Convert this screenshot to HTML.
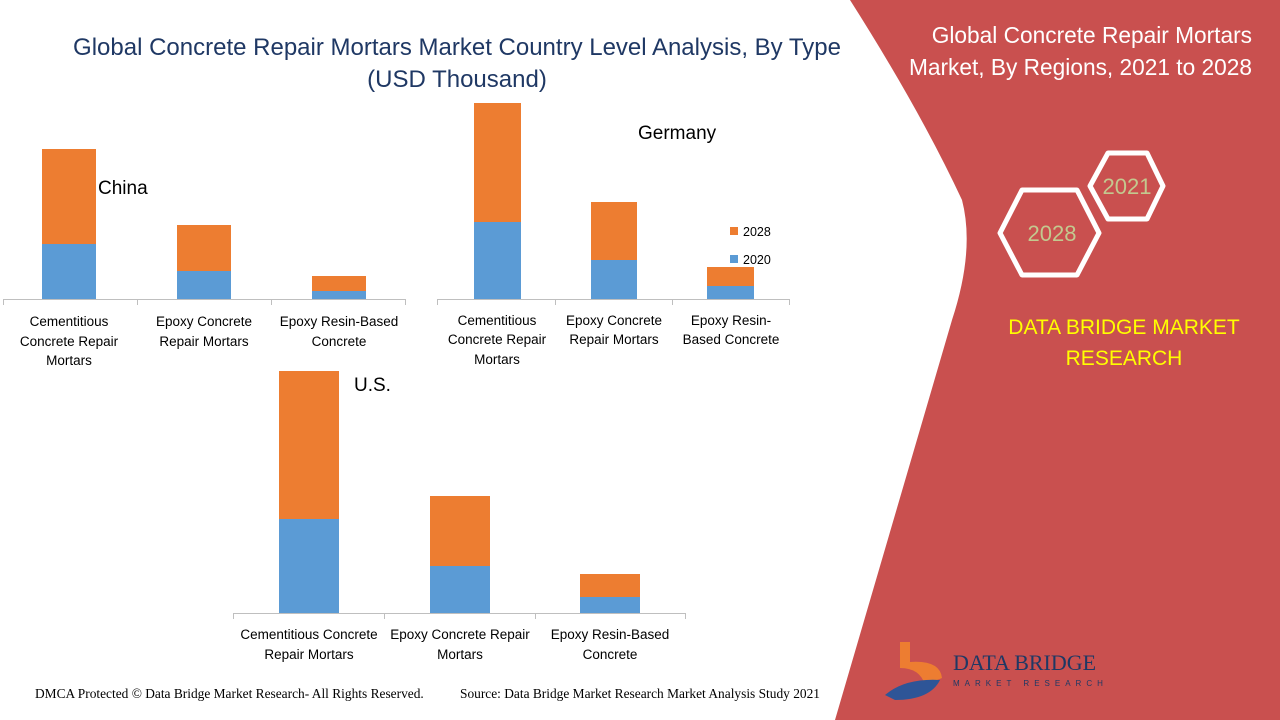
<!DOCTYPE html>
<html><head><meta charset="utf-8"><style>
body{margin:0;width:1280px;height:720px;overflow:hidden;background:#fff;font-family:"Liberation Sans",sans-serif;}
svg{position:absolute;left:0;top:0}
</style></head><body>
<svg width="1280" height="720" viewBox="0 0 1280 720">
<path d="M850,0 L1280,0 L1280,720 L835,720 L952,320 Q975,250 962,200 Q920,110 850,0 Z" fill="#c9504f"/>
<g font-family="Liberation Sans, sans-serif">
<text x="457" y="55" text-anchor="middle" font-size="24" fill="#1f3864">Global Concrete Repair Mortars Market Country Level Analysis, By Type</text>
<text x="457" y="87" text-anchor="middle" font-size="24" fill="#1f3864">(USD Thousand)</text>
<!-- China -->
<line x1="3" y1="299.5" x2="405" y2="299.5" stroke="#bfbfbf"/>
<g stroke="#bfbfbf"><line x1="3.5" y1="299" x2="3.5" y2="305"/><line x1="137.5" y1="299" x2="137.5" y2="305"/><line x1="271.5" y1="299" x2="271.5" y2="305"/><line x1="405.5" y1="299" x2="405.5" y2="305"/></g>
<rect x="42" y="244" width="54" height="55" fill="#5b9bd5"/><rect x="42" y="149" width="54" height="95" fill="#ed7d31"/>
<rect x="177" y="271" width="54" height="28" fill="#5b9bd5"/><rect x="177" y="225" width="54" height="46" fill="#ed7d31"/>
<rect x="312" y="291" width="54" height="8" fill="#5b9bd5"/><rect x="312" y="276" width="54" height="15" fill="#ed7d31"/>
<text x="98" y="194" font-size="19" fill="#000">China</text>
<g font-size="13.5" fill="#000" text-anchor="middle">
<text x="69" y="326">Cementitious</text><text x="69" y="346">Concrete Repair</text><text x="69" y="365">Mortars</text>
<text x="204" y="326">Epoxy Concrete</text><text x="204" y="346">Repair Mortars</text>
<text x="339" y="326">Epoxy Resin-Based</text><text x="339" y="346">Concrete</text>
</g>
<!-- Germany -->
<line x1="437" y1="299.5" x2="789" y2="299.5" stroke="#bfbfbf"/>
<g stroke="#bfbfbf"><line x1="437.5" y1="299" x2="437.5" y2="305"/><line x1="555.5" y1="299" x2="555.5" y2="305"/><line x1="672.5" y1="299" x2="672.5" y2="305"/><line x1="789.5" y1="299" x2="789.5" y2="305"/></g>
<rect x="474" y="222" width="47" height="77" fill="#5b9bd5"/><rect x="474" y="103" width="47" height="119" fill="#ed7d31"/>
<rect x="591" y="260" width="46" height="39" fill="#5b9bd5"/><rect x="591" y="202" width="46" height="58" fill="#ed7d31"/>
<rect x="707" y="286" width="47" height="13" fill="#5b9bd5"/><rect x="707" y="267" width="47" height="19" fill="#ed7d31"/>
<text x="638" y="139" font-size="19" fill="#000">Germany</text>
<rect x="730" y="227" width="8" height="8" fill="#ed7d31"/><text x="743" y="236" font-size="12.5" fill="#000">2028</text>
<rect x="730" y="255" width="8" height="8" fill="#5b9bd5"/><text x="743" y="264" font-size="12.5" fill="#000">2020</text>
<g font-size="13.5" fill="#000" text-anchor="middle">
<text x="497" y="325">Cementitious</text><text x="497" y="344">Concrete Repair</text><text x="497" y="364">Mortars</text>
<text x="614" y="325">Epoxy Concrete</text><text x="614" y="344">Repair Mortars</text>
<text x="731" y="325">Epoxy Resin-</text><text x="731" y="344">Based Concrete</text>
</g>
<!-- US -->
<line x1="233" y1="613.5" x2="685" y2="613.5" stroke="#bfbfbf"/>
<g stroke="#bfbfbf"><line x1="233.5" y1="613" x2="233.5" y2="619"/><line x1="384.5" y1="613" x2="384.5" y2="619"/><line x1="535.5" y1="613" x2="535.5" y2="619"/><line x1="685.5" y1="613" x2="685.5" y2="619"/></g>
<rect x="279" y="519" width="60" height="94" fill="#5b9bd5"/><rect x="279" y="371" width="60" height="148" fill="#ed7d31"/>
<rect x="430" y="566" width="60" height="47" fill="#5b9bd5"/><rect x="430" y="496" width="60" height="70" fill="#ed7d31"/>
<rect x="580" y="597" width="60" height="16" fill="#5b9bd5"/><rect x="580" y="574" width="60" height="23" fill="#ed7d31"/>
<text x="354" y="391" font-size="19" fill="#000">U.S.</text>
<g font-size="13.5" fill="#000" text-anchor="middle">
<text x="309" y="639">Cementitious Concrete</text><text x="309" y="659">Repair Mortars</text>
<text x="460" y="639">Epoxy Concrete Repair</text><text x="460" y="659">Mortars</text>
<text x="610" y="639">Epoxy Resin-Based</text><text x="610" y="659">Concrete</text>
</g>
<g font-family="Liberation Serif, serif" font-size="13.4" fill="#000">
<text x="35" y="698">DMCA Protected © Data Bridge Market Research- All Rights Reserved.</text>
<text x="460" y="698">Source: Data Bridge Market Research Market Analysis Study 2021</text>
</g>
<!-- right panel -->
<g fill="#fff" font-size="22.7" text-anchor="end">
<text x="1252" y="43">Global Concrete Repair Mortars</text>
<text x="1252" y="75">Market, By Regions, 2021 to 2028</text>
</g>
<polygon points="1090,186 1108,153 1147,153 1163,186 1147,219 1108,219" fill="none" stroke="#fff" stroke-width="5" stroke-linejoin="round"/>
<polygon points="1000,233 1022,190 1077,190 1099,233 1077,275 1022,275" fill="none" stroke="#fff" stroke-width="5" stroke-linejoin="round"/>
<text x="1127" y="194" font-size="22" fill="#c3c98f" text-anchor="middle">2021</text>
<text x="1052" y="241" font-size="22" fill="#c3c98f" text-anchor="middle">2028</text>
<g fill="#ffff00" font-size="21" text-anchor="middle">
<text x="1124" y="334">DATA BRIDGE MARKET</text>
<text x="1124" y="365">RESEARCH</text>
</g>
<path d="M900,642 L910,642 L910,662 Q940,660 942,678 L925,685 Q920,668 900,668 Z" fill="#ed7d31"/>
<path d="M885,695 Q905,678 940,680 Q930,700 895,700 Z" fill="#2e5597"/>
<text x="953" y="670" font-size="22" fill="#1f3864" font-family="Liberation Serif, serif">DATA BRIDGE</text>
<text x="953" y="686" font-size="8" fill="#1f3864" letter-spacing="5">MARKET RESEARCH</text>
</g>
</svg>
</body></html>
